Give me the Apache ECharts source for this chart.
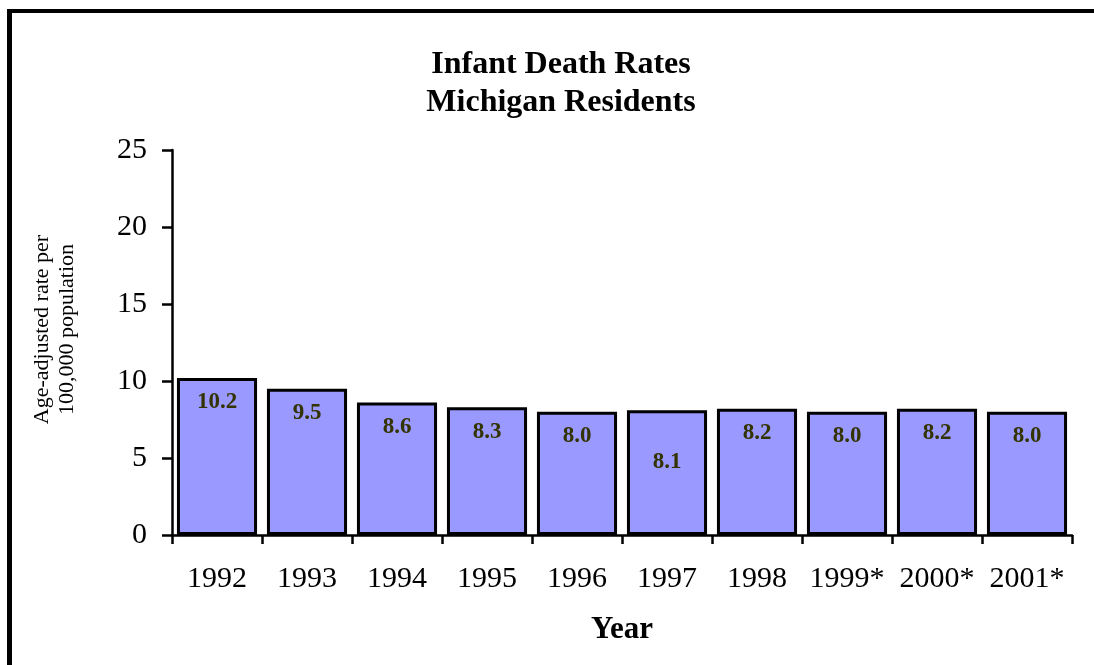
<!DOCTYPE html>
<html>
<head>
<meta charset="utf-8">
<script src="https://cdn.jsdelivr.net/npm/echarts@6/dist/echarts.min.js"></script>
<style>
  html, body { margin: 0; padding: 0; background: #fff; }
  #chart { width: 1094px; height: 665px; }
</style>
</head>
<body>
<div id="chart"></div>
<script>
// data
const years = ['1992', '1993', '1994', '1995', '1996', '1997', '1998', '1999*', '2000*', '2001*'];
const rates = [10.2, 9.5, 8.6, 8.3, 8.0, 8.1, 8.2, 8.0, 8.2, 8.0];
const yTicks = [0, 5, 10, 15, 20, 25];

const serif = '"Liberation Serif", "Times New Roman", serif';
const chart = echarts.init(document.getElementById('chart'));

// the 1997 label sits lower in the original
const barData = rates.map((v, i) => i === 5 ? { value: v, label: { offset: [0, 27] } } : v);

chart.setOption({
  animation: false,
  title: {
    text: 'Infant Death Rates\nMichigan Residents',
    left: 556,
    top: 41,
    textAlign: 'center',
    textStyle: { fontFamily: serif, fontWeight: 'bold', fontSize: 32, lineHeight: 38, color: '#000' }
  },
  // frame edges (top and left only)
  graphic: [
    { type: 'line', shape: { x1: 7, y1: 11, x2: 1094, y2: 11 }, style: { stroke: '#000', lineWidth: 4 }, silent: true },
    { type: 'line', shape: { x1: 9.5, y1: 9, x2: 9.5, y2: 665 }, style: { stroke: '#000', lineWidth: 5 }, silent: true }
  ],
  grid: { left: 172, right: 22, top: 150, bottom: 130 },
  xAxis: {
    type: 'category',
    data: years,
    name: 'Year',
    nameLocation: 'middle',
    nameGap: 79,
    nameTextStyle: { fontFamily: serif, fontWeight: 'bold', fontSize: 31, color: '#000' },
    axisLine: { lineStyle: { color: '#000', width: 2.5 } },
    axisTick: { show: true, interval: 0, length: 9, lineStyle: { color: '#000', width: 2.5 } },
    axisLabel: { interval: 0, fontFamily: serif, fontSize: 30, color: '#000', margin: 29 }
  },
  yAxis: {
    type: 'value',
    min: yTicks[0],
    max: yTicks[yTicks.length - 1],
    interval: 5,
    name: 'Age-adjusted rate per\n100,000 population',
    nameLocation: 'middle',
    nameRotate: 90,
    nameGap: 92,
    nameTextStyle: { fontFamily: serif, fontSize: 22, lineHeight: 25, color: '#000', padding: [0, 0, 0, 26] },
    splitLine: { show: false },
    axisLine: { show: true, lineStyle: { color: '#000', width: 2.5 } },
    axisTick: { show: true, length: 10, lineStyle: { color: '#000', width: 2.5 } },
    axisLabel: { fontFamily: serif, fontSize: 30, color: '#000', margin: 25 }
  },
  series: [{
    type: 'bar',
    data: barData,
    barCategoryGap: '11%',
    itemStyle: { color: '#9999FF', borderColor: '#000', borderWidth: 3 },
    label: {
      show: true,
      position: 'insideTop',
      distance: 13,
      formatter: p => p.value.toFixed(1),
      fontFamily: serif,
      fontWeight: 'bold',
      fontSize: 23,
      color: '#333300'
    }
  }]
});
</script>
</body>
</html>
